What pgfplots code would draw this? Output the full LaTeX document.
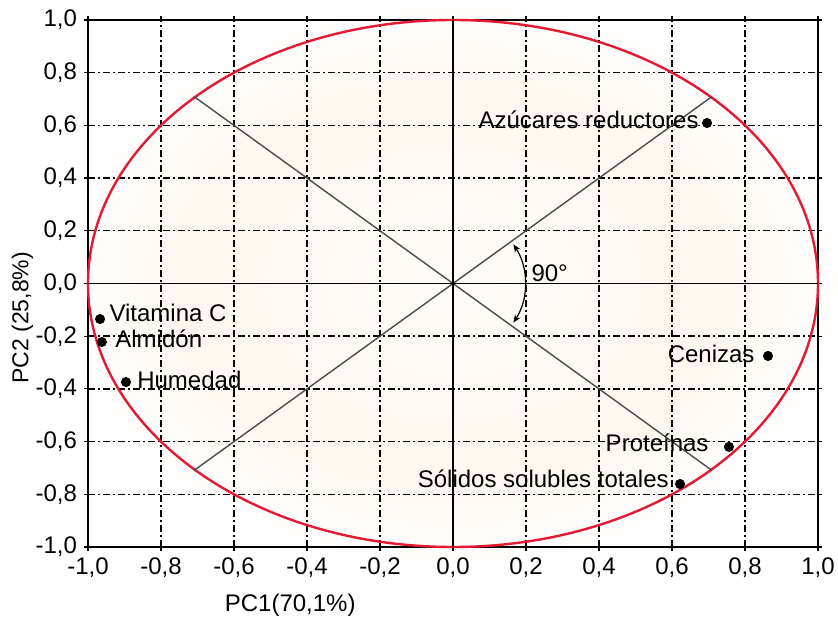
\documentclass[border=0pt]{standalone}
\usepackage{pgfplots}
\pgfplotsset{compat=1.18}
\usetikzlibrary{arrows.meta}
\usepackage{fontspec}
\setmainfont{Liberation Sans}
\definecolor{peachc}{RGB}{254,248,241}
\definecolor{peachl}{RGB}{255,252,249}
\definecolor{circred}{RGB}{226,26,52}
\pgfdeclareradialshading{peachshade}{\pgfpoint{0bp}{0bp}}{color(0bp)=(peachl); color(11bp)=(peachc); color(15bp)=(peachc); color(18bp)=(peachl); color(21bp)=(white); color(50bp)=(white)}
\newcommand{\lbl}{\fontsize{12}{14}\selectfont}
\begin{document}
\begin{tikzpicture}
\useasboundingbox (-44pt,-38.5pt) rectangle (375pt,273.5pt);
\shade[shading=peachshade] (-54.75pt,-39.5pt) rectangle (419.75pt,303pt);
\begin{axis}[
  at={(0pt,0pt)}, anchor=south west,
  scale only axis, width=365pt, height=263.5pt,
  xmin=-1, xmax=1, ymin=-1, ymax=1,
  xtick={-1,-0.8,-0.6,-0.4,-0.2,0,0.2,0.4,0.6,0.8,1},
  ytick={-1,-0.8,-0.6,-0.4,-0.2,0,0.2,0.4,0.6,0.8,1},
  grid=major,
  major grid style={black, line width=0.7pt, dash pattern=on 3.5pt off 1.5pt on 1pt off 1.5pt},
  tick align=outside, major tick length=2pt,
  tick style={black, line width=0.6pt},
  axis line style={black, line width=0.8pt},
  tick label style={font=\lbl},
  /pgf/number format/use comma,
  /pgf/number format/fixed,
  /pgf/number format/fixed zerofill,
  /pgf/number format/precision=1,
  /pgf/number format/assume math mode=true,
  xlabel={PC1(70,1\%)}, ylabel={PC2 (25,8\%)},
  xlabel style={at={(axis description cs:0.277,-0.110)}, anchor=center, font=\lbl},
  ylabel style={at={(axis description cs:-0.09,0.435)}, anchor=center, font=\fontsize{11.5}{13}\selectfont},
  clip=false,
]
\draw[circred, line width=1.2pt] (axis cs:0,0) ellipse [x radius=1, y radius=1];
\addplot[black!70, line width=0.7pt, mark=none] coordinates {(-0.71,-0.71) (0.71,0.71)};
\addplot[black!70, line width=0.7pt, mark=none] coordinates {(-0.71,0.71) (0.71,-0.71)};
\addplot[black, line width=0.7pt, mark=none] coordinates {(-1,0) (1,0)};
\addplot[black, line width=0.7pt, mark=none] coordinates {(0,-1) (0,1)};
\addplot[only marks, mark=*, mark size=2.3pt, black] table[row sep=\\] {
x y\\
0.696 0.609\\
0.863 -0.275\\
0.756 -0.620\\
0.622 -0.761\\
-0.967 -0.135\\
-0.962 -0.222\\
-0.896 -0.374\\
};
\node[anchor=base east, inner sep=0pt, font=\lbl] at (axis cs:0.674,0.590) {Azúcares reductores};
\node[anchor=base east, inner sep=0pt, font=\lbl] at (axis cs:0.827,-0.298) {Cenizas};
\node[anchor=base east, inner sep=0pt, font=\lbl] at (axis cs:0.701,-0.639) {Proteínas};
\node[anchor=base east, inner sep=0pt, font=\lbl] at (axis cs:0.592,-0.776) {Sólidos solubles totales};
\node[anchor=base west, inner sep=0pt, font=\lbl] at (axis cs:-0.942,-0.146) {Vitamina C};
\node[anchor=base west, inner sep=0pt, font=\lbl] at (axis cs:-0.926,-0.241) {Almidón};
\node[anchor=base west, inner sep=0pt, font=\lbl] at (axis cs:-0.866,-0.400) {Humedad};
\node[anchor=base west, inner sep=0pt, font=\lbl] at (axis cs:0.214,0.008) {90°};
\coordinate (O) at (axis cs:0,0);
\end{axis}
\draw[{Stealth[length=4pt,width=3.2pt]}-{Stealth[length=4pt,width=3.2pt]}, line width=0.6pt] (O) ++(33:36pt) arc[start angle=33, end angle=-33, radius=36pt];
\end{tikzpicture}
\end{document}
